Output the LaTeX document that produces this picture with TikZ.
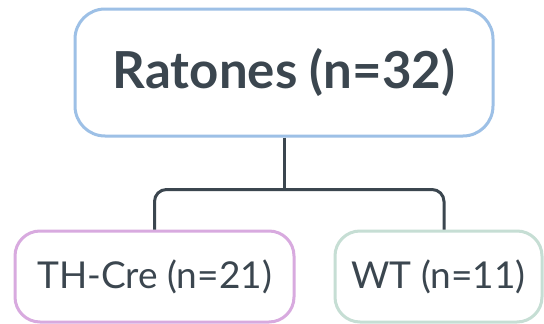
\documentclass[tikz,border=0pt]{standalone}
\usepackage{fontspec}
\setmainfont{Lato}
\definecolor{txt}{HTML}{3B464F}
\definecolor{bluebd}{HTML}{9DC0E6}
\definecolor{pinkbd}{HTML}{D8AADF}
\definecolor{greenbd}{HTML}{C6DED4}
\begin{document}
\begin{tikzpicture}[x=1pt,y=-1pt,
  box/.style={draw, line width=3pt, rounded corners=#1, inner sep=0pt, text=txt, fill=white},
  conn/.style={draw=txt, line width=3pt, rounded corners=12pt}]
\fill[white] (0,0) rectangle (544,324);
\useasboundingbox (0,0) rectangle (544,324);
\node[box=30pt, draw=bluebd, minimum width=418pt, minimum height=127pt,
  font=\fontsize{51}{60}\selectfont\bfseries] (top) at (284,72.5) {Ratones (n=32)};
\node[box=25pt, draw=pinkbd, minimum width=279pt, minimum height=91pt,
  font=\fontsize{37}{44}\selectfont] (left) at (154.5,276.5) {TH-Cre (n=21)};
\node[box=25pt, draw=greenbd, minimum width=207pt, minimum height=91pt,
  font=\fontsize{37}{44}\selectfont] (right) at (438.5,276.5) {WT (n=11)};
\coordinate (junc) at ([yshift=-52pt]top.south);
\draw[conn] (top.south) -- (junc);
\draw[conn] (left.north) |- (junc) -| ([xshift=5.5pt]right.north);
\end{tikzpicture}
\end{document}
